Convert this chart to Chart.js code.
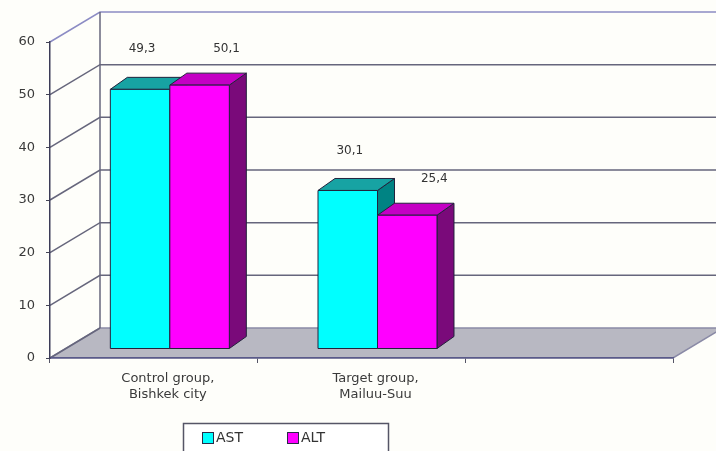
<!DOCTYPE html>
<html>
<head>
<meta charset="utf-8">
<script src="https://cdn.jsdelivr.net/npm/chart.js@4"></script>
<style>
  html, body { margin: 0; padding: 0; background: #fefefa; }
  #wrap { width: 716px; height: 451px; }
</style>
</head>
<body>
<div id="wrap"><canvas id="myBarChart" width="716" height="451"></canvas></div>
<script>
// data
var categories = [['Control group,', 'Bishkek city'], ['Target group,', 'Mailuu-Suu'], ''];
var astValues = [49.3, 30.1, null];
var altValues = [50.1, 25.4, null];
var yMin = 0, yMax = 60, yStep = 10;

// fake 3d look
var WALL_DX = 50, WALL_DY = -30;   // front axis -> back wall
var BAR_DX = 16, BAR_DY = -9;      // front axis -> bar plane
var BOX_DX = 17, BOX_DY = -12;     // bar depth

var faces = {
    AST: { front: '#00ffff', top: '#17a3a3', side: '#008383' },
    ALT: { front: '#ff00ff', top: '#c400c4', side: '#7a0a7a' }
};

function fmt(v) { return v.toFixed(1).replace('.', ','); }

var frame3d = {
    id: 'frame3d',
    beforeDraw: function (chart) {
        var ctx = chart.ctx, a = chart.chartArea, y = chart.scales.y;
        ctx.save();
        ctx.fillStyle = '#fefefa';
        ctx.fillRect(0, 0, chart.width, chart.height);

        var x0 = a.left, x1 = a.right, yb = y.getPixelForValue(0);
        // floor
        ctx.beginPath();
        ctx.moveTo(x0, yb);
        ctx.lineTo(x1, yb);
        ctx.lineTo(x1 + WALL_DX, yb + WALL_DY);
        ctx.lineTo(x0 + WALL_DX, yb + WALL_DY);
        ctx.closePath();
        ctx.fillStyle = '#b8b8c2';
        ctx.fill();
        ctx.strokeStyle = '#8a8aa6';
        ctx.lineWidth = 1.5;
        ctx.stroke();

        // back wall grid + side wall diagonals
        for (var v = yMin; v <= yMax; v += yStep) {
            var py = y.getPixelForValue(v);
            ctx.beginPath();
            ctx.moveTo(x0, py);
            ctx.lineTo(x0 + WALL_DX, py + WALL_DY);
            if (v > yMin) ctx.lineTo(chart.width + 10, py + WALL_DY);
            ctx.strokeStyle = v === yMax ? '#8c8cc4' : '#66667c';
            ctx.lineWidth = 1.5;
            ctx.stroke();
        }
        ctx.beginPath();
        ctx.moveTo(x0 + WALL_DX, y.getPixelForValue(yMax) + WALL_DY);
        ctx.lineTo(x0 + WALL_DX, yb + WALL_DY);
        ctx.strokeStyle = '#66667c';
        ctx.stroke();
        ctx.restore();
    },
    beforeDatasetsDraw: function (chart) {
        var ctx = chart.ctx;
        var n = chart.data.labels.length;
        ctx.save();
        for (var i = 0; i < n; i++) {
            chart.data.datasets.forEach(function (ds, d) {
                var val = ds.data[i];
                if (val === null || val === undefined) return;
                var bar = chart.getDatasetMeta(d).data[i];
                var c = faces[ds.label];
                var L = bar.x - bar.width / 2 + BAR_DX, R = bar.x + bar.width / 2 + BAR_DX;
                var T = bar.y + BAR_DY, B = bar.base + BAR_DY;
                ctx.lineWidth = 1;
                ctx.strokeStyle = '#22223c';
                ctx.lineJoin = 'round';
                // side
                ctx.beginPath();
                ctx.moveTo(R, T); ctx.lineTo(R + BOX_DX, T + BOX_DY);
                ctx.lineTo(R + BOX_DX, B + BOX_DY); ctx.lineTo(R, B);
                ctx.closePath();
                ctx.fillStyle = c.side; ctx.fill(); ctx.stroke();
                // top
                ctx.beginPath();
                ctx.moveTo(L, T); ctx.lineTo(L + BOX_DX, T + BOX_DY);
                ctx.lineTo(R + BOX_DX, T + BOX_DY); ctx.lineTo(R, T);
                ctx.closePath();
                ctx.fillStyle = c.top; ctx.fill(); ctx.stroke();
                // front
                ctx.fillStyle = c.front;
                ctx.fillRect(L, T, R - L, B - T);
                ctx.strokeRect(L, T, R - L, B - T);
            });
        }
        // value labels
        ctx.font = '12px "DejaVu Sans"';
        ctx.fillStyle = '#333333';
        ctx.textAlign = 'center';
        ctx.textBaseline = 'middle';
        var lblDx = [2, 27], lblDy = [-40, -36];
        chart.data.datasets.forEach(function (ds, d) {
            chart.getDatasetMeta(d).data.forEach(function (bar, i) {
                var val = ds.data[i];
                if (val === null || val === undefined) return;
                ctx.fillText(fmt(val), bar.x + BAR_DX + lblDx[d], bar.y + BAR_DY + lblDy[d]);
            });
        });
        ctx.restore();
        return false;
    },
    afterDraw: function (chart) {
        var ctx = chart.ctx;
        ctx.save();
        ctx.fillStyle = '#ffffff';
        ctx.fillRect(183.5, 423.5, 205, 40);
        ctx.strokeStyle = '#555566';
        ctx.lineWidth = 1.5;
        ctx.strokeRect(183.5, 423.5, 205, 40);
        ctx.font = '14px "DejaVu Sans"';
        ctx.textBaseline = 'middle';
        var xs = [202, 287];
        chart.data.datasets.forEach(function (ds, d) {
            ctx.fillStyle = faces[ds.label].front;
            ctx.fillRect(xs[d], 432, 11, 11);
            ctx.strokeStyle = '#2a2a48';
            ctx.lineWidth = 1;
            ctx.strokeRect(xs[d] + 0.5, 432.5, 11, 11);
            ctx.fillStyle = '#333333';
            ctx.fillText(ds.label, xs[d] + 14, 438);
        });
        ctx.restore();
    }
};

Chart.defaults.font.family = '"DejaVu Sans"';
Chart.defaults.color = '#3a3a3a';

var ctx = document.getElementById('myBarChart').getContext('2d');
var chart = new Chart(ctx, {
    type: 'bar',
    data: {
        labels: categories,
        datasets: [
            { label: 'AST', data: astValues, backgroundColor: faces.AST.front },
            { label: 'ALT', data: altValues, backgroundColor: faces.ALT.front }
        ]
    },
    options: {
        responsive: false,
        animation: false,
        layout: { padding: { top: 42, right: 43, left: 0, bottom: 0 } },
        datasets: { bar: { barPercentage: 1, categoryPercentage: 0.573 } },
        plugins: { legend: { display: false }, tooltip: { enabled: false } },
        scales: {
            x: {
                grid: { offset: true, drawOnChartArea: false, tickLength: 5, color: '#555566' },
                border: { display: true, color: '#5a5a8a', width: 1.5 },
                ticks: { font: { size: 13 }, padding: 8, labelOffset: 14, maxRotation: 0, autoSkip: false },
                afterFit: function (s) { s.height = 93; }
            },
            y: {
                min: yMin, max: yMax,
                grid: { drawOnChartArea: false, tickLength: 4, color: '#444455' },
                border: { display: true, color: '#3c3c58', width: 1.5 },
                ticks: { stepSize: yStep, font: { size: 13 }, padding: 11 },
                afterFit: function (s) { s.width = 50; }
            }
        }
    },
    plugins: [frame3d]
});
</script>
</body>
</html>
